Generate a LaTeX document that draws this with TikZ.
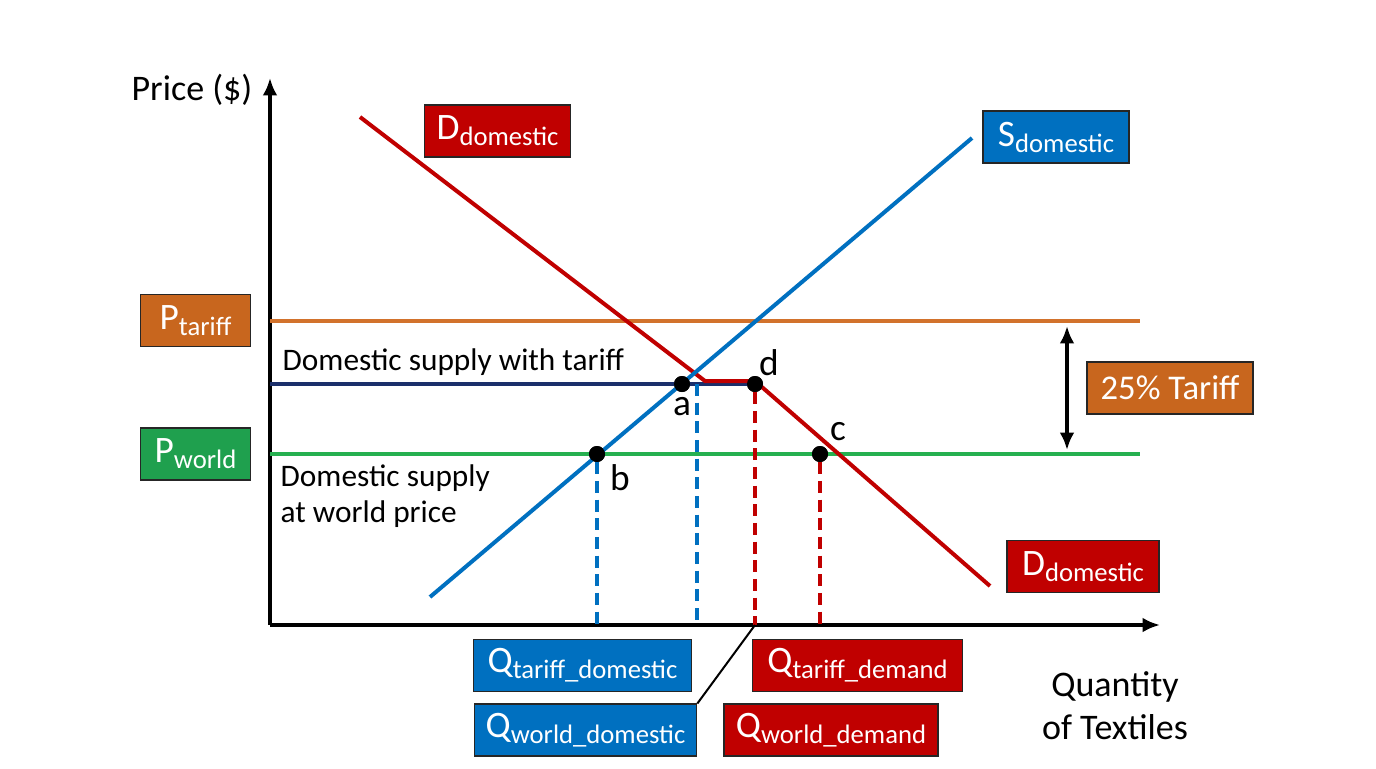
\documentclass[tikz,border=0pt]{standalone}
\usepackage{fontspec}
\setmainfont{Carlito}
\usetikzlibrary{arrows.meta}

\definecolor{dred}{HTML}{C00000}
\definecolor{sblue}{HTML}{0070C0}
\definecolor{torange}{HTML}{C8661E}
\definecolor{torangeline}{HTML}{D2722C}
\definecolor{wgreen}{HTML}{1FA04E}
\definecolor{wgreenline}{HTML}{26B050}
\definecolor{navy}{HTML}{1B2F6B}

\newcommand\lbl[2]{#1\raisebox{-4.5pt}{\fontsize{20}{24}\selectfont #2}}

\tikzset{
  box/.style={draw=black!85, line width=0.8pt, text=white, minimum height=39pt,
    inner sep=0pt, font=\fontsize{28}{32}\selectfont},
  redbox/.style={box, fill=dred},
  bluebox/.style={box, fill=sblue},
  orbox/.style={box, fill=torange},
  grbox/.style={box, fill=wgreen},
  dot/.style={circle, fill=black, inner sep=0pt, minimum size=12pt},
  ptlbl/.style={font=\fontsize{28}{32}\selectfont},
  note/.style={font=\fontsize{23.5}{27}\selectfont, align=left, anchor=west},
  axis/.style={line width=3pt, -{Latex[length=13pt,width=11pt]}},
  curve/.style={line width=3pt},
  qdash/.style={line width=2.3pt, dash pattern=on 9pt off 5pt}
}

\begin{document}
\begin{tikzpicture}[x=0.75pt, y=-0.75pt]
    \useasboundingbox (0,0) rectangle (1376,768);
    %axes
    \coordinate (O) at (270,625);
    \coordinate (ytop) at (270,78);
    \coordinate (xend) at (1160,625);
    \draw[axis] (O) -- (ytop);
    \draw[axis] (O) -- (xend);
    \node[font=\fontsize{27}{31}\selectfont] (ylab) at (192,90) {Price (\$)};
    \node[font=\fontsize{27}{32}\selectfont, align=center] (xlab) at (1115,706) {Quantity\\of Textiles};

    %price lines
    \coordinate (pt0) at (270,321);
    \coordinate (pt1) at (1140,321);
    \coordinate (pw0) at (270,454);
    \coordinate (pw1) at (1140,454);
    \draw[curve, torangeline] (pt0) -- (pt1);
    \draw[curve, wgreenline] (pw0) -- (pw1);

    %points
    \node[dot] (a) at (682,384) {};
    \node[dot] (d) at (755,384) {};
    \node[dot] (b) at (597,454) {};
    \node[dot] (c) at (820,454) {};
    \coordinate (ak) at (697,384);
    \coordinate (dk) at (705,381);

    %supply with tariff
    \coordinate (st0) at (270,384);
    \draw[curve, navy] (st0) -- (d.center);

    %demand
    \coordinate (d0) at (360,117);
    \coordinate (d1) at (990,586);
    \draw[curve, dred] (d0) -- (dk) -- (755,381) -- (d1);

    %supply
    \coordinate (s0) at (430,597);
    \coordinate (s1) at (972,138);
    \draw[curve, sblue] (s0) -- (s1);

    \node[dot] at (a) {};
    \node[dot] at (d) {};
    \node[dot] at (b) {};
    \node[dot] at (c) {};

    %quantities
    \draw[qdash, sblue] (b) -- (b |- O);
    \draw[qdash, sblue] (ak) -- (ak |- O);
    \draw[qdash, dred] (d) -- (d |- O);
    \draw[qdash, dred] (c) -- (c |- O);

    \node[ptlbl] (la) at (682,407) {a};
    \node[ptlbl] (ld) at (769,363) {d};
    \node[ptlbl] (lb) at (620,478) {b};
    \node[ptlbl] (lc) at (838,432) {c};

    \node[note] (nt) at (278,362) {Domestic supply with tariff};
    \node[note] (nw) at (276,496) {Domestic supply\\at world price};

    %boxes
    \node[redbox, minimum width=109pt] (dtop) at (497.5,131) {\lbl{D}{domestic}};
    \node[bluebox, minimum width=109.5pt] (stop) at (1056,137) {\lbl{S}{domestic}};
    \node[orbox, minimum width=83pt] (pt) at (195.5,320.5) {\lbl{P}{tariff}};
    \node[grbox, minimum width=83pt] (pw) at (195.5,454) {\lbl{P}{world}};
    \node[orbox, minimum width=124.5pt, font=\fontsize{26}{30}\selectfont] (tar) at (1170,388) {25\% Tariff};
    \node[redbox, minimum width=114pt] (dbot) at (1083,566.5) {\lbl{D}{domestic}};
    \node[bluebox, minimum width=163pt] (qtd) at (582.5,665.5) {\lbl{Q}{tariff\_domestic}};
    \node[redbox, minimum width=157pt] (qtdm) at (857.5,665.5) {\lbl{Q}{tariff\_demand}};
    \node[bluebox, minimum width=167pt] (qwd) at (585.5,730) {\lbl{Q}{world\_domestic}};
    \node[redbox, minimum width=160.5pt] (qwdm) at (831,730) {\lbl{Q}{world\_demand}};

    \draw[line width=1.5pt] (d |- O) -- (qwd.north east);

    %tariff arrow
    \coordinate (ar0) at (1067,326);
    \coordinate (ar1) at (1067,450);
    \draw[line width=3pt, {Latex[length=13pt,width=11pt]}-{Latex[length=13pt,width=11pt]}] (ar0) -- (ar1);
\end{tikzpicture}
\end{document}
